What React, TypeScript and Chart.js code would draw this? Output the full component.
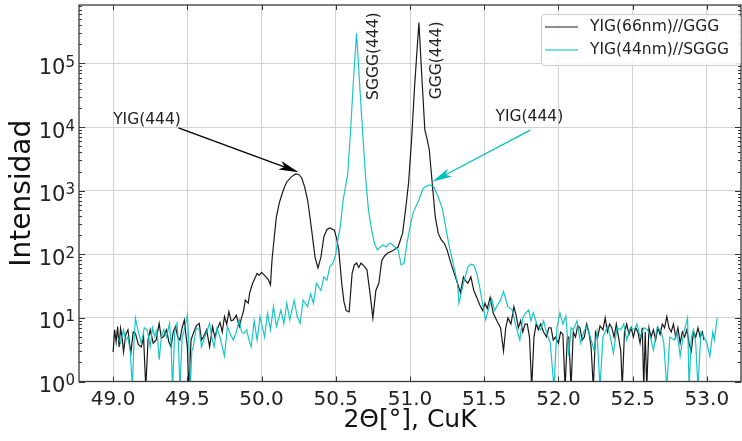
import React, { useEffect, useRef } from "react";
import { Chart, registerables } from "chart.js";

Chart.register(...registerables);

const FONT = '"DejaVu Sans", sans-serif';

const xTicks = [49.0, 49.5, 50.0, 50.5, 51.0, 51.5, 52.0, 52.5, 53.0];
const yTicks = [1, 10, 100, 1000, 10000, 100000];
const seriesNames = ["YIG(66nm)//GGG", "YIG(44nm)//SGGG"];
const seriesColors = ["rgba(0,0,0,0.9)", "rgba(0,191,191,0.9)"];
const xTitle = "2Θ[°], CuK";
const yTitle = "Intensidad";

// [2θ (deg), intensity]
const gggSeries: [number, number][] = [
  [49.0, 2.9], [49.01, 6.5], [49.02, 4.2], [49.03, 7.3], [49.04, 3.5], [49.05, 6.9], [49.06, 5.0], [49.07, 2.9],
  [49.085, 5.5], [49.1, 6.5], [49.11, 4.0], [49.12, 2.9], [49.135, 6.0], [49.15, 5.7], [49.17, 3.8], [49.19, 3.5],
  [49.205, 5.0], [49.22, 0.8], [49.235, 4.5], [49.25, 6.5], [49.27, 4.0], [49.29, 4.5], [49.31, 8.2], [49.325, 4.8],
  [49.34, 5.1], [49.36, 6.5], [49.375, 4.2], [49.39, 3.5], [49.405, 6.0], [49.42, 7.3], [49.435, 5.0], [49.45, 4.5],
  [49.465, 7.0], [49.48, 9.3], [49.49, 5.5], [49.5, 3.5], [49.51, 0.8], [49.525, 4.5], [49.54, 5.7], [49.56, 7.5],
  [49.58, 8.2], [49.595, 4.5], [49.61, 5.1], [49.63, 6.5], [49.65, 3.5], [49.67, 7.3], [49.685, 5.0], [49.7, 6.5],
  [49.72, 8.5], [49.735, 6.0], [49.75, 10.5], [49.765, 8.0], [49.78, 12.5], [49.795, 9.0], [49.81, 9.3], [49.83, 11],
  [49.85, 7.3], [49.865, 10], [49.88, 13.3], [49.89, 19], [49.91, 17], [49.92, 25], [49.94, 35], [49.955, 42],
  [49.97, 50], [49.985, 47], [50.0, 52], [50.015, 48], [50.03, 44], [50.045, 40], [50.06, 33], [50.07, 80],
  [50.085, 180], [50.1, 390], [50.12, 650], [50.14, 920], [50.155, 1150], [50.17, 1370], [50.2, 1650], [50.23, 1830],
  [50.25, 1800], [50.27, 1600], [50.29, 1150], [50.31, 720], [50.325, 400], [50.34, 215], [50.36, 90], [50.38, 61],
  [50.4, 90], [50.42, 190], [50.44, 245], [50.46, 260], [50.49, 240], [50.505, 180], [50.52, 117], [50.54, 35],
  [50.555, 18], [50.57, 13], [50.59, 12.4], [50.61, 50], [50.625, 68], [50.64, 73], [50.655, 62], [50.67, 73],
  [50.69, 65], [50.71, 57], [50.73, 25], [50.75, 10], [50.77, 27], [50.79, 35], [50.81, 80], [50.83, 95],
  [50.85, 105], [50.87, 110], [50.89, 117], [50.92, 130], [50.95, 215], [50.97, 500], [50.99, 1300], [51.01, 6000],
  [51.03, 40000], [51.05, 200000], [51.06, 440000], [51.08, 60000], [51.1, 9000], [51.115, 6500], [51.13, 4400], [51.15, 1300],
  [51.17, 390], [51.19, 215], [51.21, 170], [51.23, 150], [51.25, 117], [51.27, 80], [51.29, 57], [51.32, 35],
  [51.34, 25], [51.36, 44], [51.375, 38], [51.39, 35], [51.41, 44], [51.43, 27], [51.45, 21], [51.47, 16],
  [51.49, 13], [51.505, 17], [51.52, 14], [51.54, 21], [51.56, 12], [51.585, 9], [51.61, 7], [51.63, 3],
  [51.645, 7], [51.66, 10], [51.68, 8], [51.7, 15], [51.715, 11], [51.73, 7], [51.745, 9], [51.76, 6],
  [51.775, 8], [51.79, 8], [51.805, 5], [51.82, 0.8], [51.835, 5], [51.85, 8], [51.865, 6.5], [51.88, 8],
  [51.9, 6], [51.92, 5], [51.935, 7], [51.95, 7], [51.965, 4.5], [51.98, 5], [52.0, 4], [52.015, 6],
  [52.03, 5.5], [52.045, 0.8], [52.06, 5], [52.07, 5], [52.085, 0.8], [52.1, 6], [52.115, 5], [52.13, 7.5],
  [52.145, 7], [52.16, 4.5], [52.175, 5], [52.19, 8], [52.205, 6], [52.22, 3.5], [52.235, 0.8], [52.25, 6],
  [52.265, 5], [52.28, 7.5], [52.3, 6.5], [52.315, 10], [52.33, 6], [52.345, 8], [52.36, 7], [52.375, 5],
  [52.39, 8], [52.405, 5], [52.42, 3], [52.43, 0.8], [52.445, 6], [52.46, 8], [52.475, 5.5], [52.49, 7],
  [52.505, 5], [52.52, 7], [52.535, 6], [52.55, 4], [52.565, 7], [52.575, 0.8], [52.585, 6], [52.595, 0.8],
  [52.61, 7], [52.625, 5], [52.64, 6.5], [52.655, 4.5], [52.67, 7], [52.685, 5.5], [52.7, 8], [52.715, 7],
  [52.73, 10.5], [52.745, 7], [52.76, 6], [52.775, 8], [52.79, 5], [52.805, 7], [52.82, 4], [52.835, 6],
  [52.85, 5], [52.865, 6.5], [52.88, 4], [52.895, 3], [52.91, 6], [52.925, 5], [52.94, 7], [52.955, 5],
  [52.97, 6], [52.98, 4.5],
];

const sgggSeries: [number, number][] = [
  [49.03, 5], [49.05, 4], [49.07, 6.5], [49.085, 4.5], [49.1, 5], [49.115, 3], [49.13, 0.8], [49.14, 4],
  [49.15, 10], [49.17, 6], [49.19, 4], [49.21, 7], [49.23, 6.5], [49.25, 3.5], [49.265, 7], [49.28, 5.1],
  [49.295, 6.5], [49.31, 2.2], [49.325, 5], [49.34, 6.5], [49.36, 5], [49.38, 8.2], [49.39, 4], [49.4, 0.8],
  [49.415, 6], [49.43, 8.2], [49.44, 4], [49.45, 0.8], [49.465, 5], [49.48, 6.5], [49.5, 11], [49.51, 4],
  [49.52, 0.8], [49.53, 3], [49.54, 3.5], [49.56, 7], [49.58, 6.5], [49.595, 3.5], [49.61, 4.5], [49.63, 6],
  [49.65, 8.2], [49.665, 5], [49.68, 3.5], [49.7, 6.9], [49.72, 5], [49.735, 3.5], [49.75, 2.5], [49.77, 7.3],
  [49.79, 5.5], [49.81, 4.5], [49.83, 6], [49.85, 9.3], [49.865, 6], [49.88, 5.7], [49.9, 6.5], [49.915, 4.5],
  [49.93, 3.5], [49.95, 9], [49.97, 4.5], [49.99, 10.5], [50.02, 5], [50.04, 11.8], [50.06, 6.5], [50.08, 15],
  [50.1, 7.3], [50.13, 13.3], [50.15, 8.2], [50.17, 17], [50.19, 9.3], [50.22, 19], [50.24, 10.5], [50.26, 8.2],
  [50.28, 19], [50.31, 15], [50.33, 24], [50.35, 17], [50.37, 35], [50.4, 27], [50.42, 44], [50.44, 39],
  [50.46, 64], [50.48, 72], [50.5, 100], [50.51, 150], [50.53, 270], [50.55, 720], [50.58, 1800], [50.6, 9000],
  [50.62, 60000], [50.64, 300000], [50.66, 50000], [50.68, 9000], [50.7, 1700], [50.72, 500], [50.74, 250], [50.76, 150],
  [50.78, 117], [50.8, 130], [50.82, 140], [50.84, 130], [50.855, 145], [50.87, 150], [50.89, 135], [50.92, 117],
  [50.94, 68], [50.96, 72], [50.98, 150], [51.0, 270], [51.02, 440], [51.06, 720], [51.09, 1100], [51.13, 1230],
  [51.16, 1150], [51.19, 800], [51.22, 500], [51.24, 270], [51.26, 150], [51.29, 73], [51.32, 35], [51.33, 17],
  [51.36, 35], [51.39, 63], [51.41, 70], [51.43, 68], [51.45, 50], [51.47, 30], [51.49, 16], [51.51, 9.3],
  [51.53, 14], [51.55, 20], [51.57, 13], [51.59, 16], [51.61, 19], [51.63, 26], [51.66, 15], [51.69, 13.3],
  [51.71, 8], [51.74, 4.5], [51.76, 10], [51.78, 12], [51.8, 13.3], [51.815, 9], [51.83, 12], [51.855, 8],
  [51.88, 6.5], [51.9, 9], [51.92, 5.8], [51.945, 4], [51.97, 0.8], [51.99, 7], [52.01, 12], [52.03, 8],
  [52.05, 10.7], [52.07, 2.5], [52.085, 7], [52.1, 6.5], [52.125, 9], [52.15, 4], [52.17, 6], [52.19, 7.3],
  [52.215, 5], [52.24, 3.1], [52.26, 6], [52.28, 0.8], [52.3, 5], [52.33, 7.3], [52.35, 5], [52.37, 2.8],
  [52.395, 7], [52.42, 6.5], [52.44, 8], [52.46, 4.5], [52.485, 7], [52.51, 6.5], [52.53, 8], [52.55, 5],
  [52.575, 7], [52.6, 6.5], [52.62, 5], [52.64, 3.1], [52.665, 7], [52.69, 6.5], [52.71, 4], [52.73, 0.8],
  [52.75, 5], [52.78, 4.5], [52.8, 6], [52.82, 2.5], [52.845, 6], [52.87, 10], [52.88, 0.8], [52.895, 5],
  [52.91, 6.5], [52.925, 4], [52.94, 0.8], [52.96, 6], [52.98, 5], [53.0, 4], [53.02, 2.5], [53.04, 6],
  [53.05, 4.5], [53.07, 10],
];

// annotation anchors in data coordinates
const arrowNotes = [
  { text: "YIG(444)", textAt: [49.0, 12900], from: [49.44, 9700], to: [50.25, 1950], color: "#000000" },
  { text: "YIG(444)", textAt: [51.576, 14400], from: [51.81, 8950], to: [51.15, 1380], color: "#00bfbf" },
];
const peakNotes = [
  { text: "SGGG(444)", at: [50.758, 26700] },
  { text: "GGG(444)", at: [51.182, 27400] },
];

function drawArrow(ctx: CanvasRenderingContext2D, x0: number, y0: number, x1: number, y1: number, color: string) {
  const ang = Math.atan2(y1 - y0, x1 - x0);
  const L = 20;
  const W = 4.5;
  ctx.save();
  ctx.strokeStyle = color;
  ctx.fillStyle = color;
  ctx.lineWidth = 1.3;
  ctx.beginPath();
  ctx.moveTo(x0, y0);
  ctx.lineTo(x1 - Math.cos(ang) * L * 0.7, y1 - Math.sin(ang) * L * 0.7);
  ctx.stroke();
  ctx.translate(x1, y1);
  ctx.rotate(ang);
  ctx.beginPath();
  ctx.moveTo(0, 0);
  ctx.lineTo(-L, -W);
  ctx.lineTo(-L * 0.75, 0);
  ctx.lineTo(-L, W);
  ctx.closePath();
  ctx.fill();
  ctx.restore();
}

const decorPlugin = {
  id: "decor",
  afterDraw(chart: any) {
    const ctx: CanvasRenderingContext2D = chart.ctx;
    const a = chart.chartArea;
    const xs = chart.scales.x;
    const ys = chart.scales.y;
    ctx.save();

    // frame
    ctx.strokeStyle = "#3a3a3a";
    ctx.lineWidth = 1.3;
    ctx.strokeRect(a.left, a.top, a.right - a.left, a.bottom - a.top);

    // inward ticks
    ctx.lineWidth = 1;
    ctx.strokeStyle = "#333";
    ctx.beginPath();
    xTicks.forEach((v) => {
      const px = Math.round(xs.getPixelForValue(v)) + 0.5;
      ctx.moveTo(px, a.bottom);
      ctx.lineTo(px, a.bottom - 5);
      ctx.moveTo(px, a.top);
      ctx.lineTo(px, a.top + 5);
    });
    yTicks.forEach((v) => {
      const py = Math.round(ys.getPixelForValue(v)) + 0.5;
      ctx.moveTo(a.left, py);
      ctx.lineTo(a.left + 6, py);
      ctx.moveTo(a.right, py);
      ctx.lineTo(a.right - 6, py);
      for (let m = 2; m <= 9; m++) {
        const val = v * m;
        if (val > ys.max) break;
        const pm = Math.round(ys.getPixelForValue(val)) + 0.5;
        ctx.moveTo(a.left, pm);
        ctx.lineTo(a.left + 3, pm);
        ctx.moveTo(a.right, pm);
        ctx.lineTo(a.right - 3, pm);
      }
    });
    ctx.stroke();

    // y tick labels 10^n
    ctx.fillStyle = "#222";
    yTicks.forEach((v) => {
      const py = ys.getPixelForValue(v);
      const exp = String(Math.round(Math.log10(v)));
      ctx.font = `15px ${FONT}`;
      const ew = ctx.measureText(exp).width;
      const right = a.left - 4;
      ctx.textAlign = "left";
      ctx.textBaseline = "alphabetic";
      ctx.fillText(exp, right - ew, py + 3.5);
      ctx.font = `21px ${FONT}`;
      ctx.textAlign = "right";
      ctx.fillText("10", right - ew, py + 10.5);
    });

    // axis titles
    ctx.fillStyle = "#111";
    ctx.font = `25px ${FONT}`;
    ctx.textAlign = "center";
    ctx.textBaseline = "middle";
    ctx.fillText(xTitle, (a.left + a.right) / 2, 420);
    ctx.save();
    ctx.translate(23, (a.top + a.bottom) / 2);
    ctx.rotate(-Math.PI / 2);
    ctx.font = `28px ${FONT}`;
    ctx.fillText(yTitle, 0, 0);
    ctx.restore();

    // annotations
    ctx.font = `15.5px ${FONT}`;
    arrowNotes.forEach((n) => {
      ctx.fillStyle = "#222";
      ctx.textAlign = "left";
      ctx.textBaseline = "middle";
      ctx.fillText(n.text, xs.getPixelForValue(n.textAt[0]), ys.getPixelForValue(n.textAt[1]));
      drawArrow(
        ctx,
        xs.getPixelForValue(n.from[0]),
        ys.getPixelForValue(n.from[1]),
        xs.getPixelForValue(n.to[0]),
        ys.getPixelForValue(n.to[1]),
        n.color
      );
    });
    peakNotes.forEach((n) => {
      ctx.save();
      ctx.translate(xs.getPixelForValue(n.at[0]), ys.getPixelForValue(n.at[1]));
      ctx.rotate(-Math.PI / 2);
      ctx.fillStyle = "#222";
      ctx.textAlign = "left";
      ctx.textBaseline = "middle";
      ctx.fillText(n.text, 0, 0);
      ctx.restore();
    });

    // legend
    const bw = 199;
    const bh = 51;
    const bx = a.right - 1 - bw;
    const by = a.top + 9;
    ctx.fillStyle = "rgba(255,255,255,0.85)";
    ctx.strokeStyle = "#cccccc";
    ctx.lineWidth = 1;
    ctx.beginPath();
    (ctx as any).roundRect(bx + 0.5, by + 0.5, bw, bh, 3);
    ctx.fill();
    ctx.stroke();
    ctx.font = `15.5px ${FONT}`;
    ctx.textAlign = "left";
    ctx.textBaseline = "middle";
    seriesNames.forEach((name, i) => {
      const ly = by + 13 + i * 23;
      ctx.strokeStyle = i === 0 ? "rgba(0,0,0,0.6)" : "rgba(0,191,191,0.7)";
      ctx.lineWidth = 1.5;
      ctx.beginPath();
      ctx.moveTo(bx + 4, ly);
      ctx.lineTo(bx + 37, ly);
      ctx.stroke();
      ctx.fillStyle = "#222";
      ctx.fillText(name, bx + 49, ly);
    });

    ctx.restore();
  },
};

export default function App() {
  const ref = useRef<HTMLCanvasElement | null>(null);
  useEffect(() => {
    if (!ref.current) return;
    const toPts = (s: [number, number][]) => s.map(([x, y]) => ({ x, y }));
    const chart = new Chart(ref.current, {
      type: "line",
      data: {
        datasets: [
          {
            label: seriesNames[0],
            data: toPts(gggSeries),
            borderColor: seriesColors[0],
            borderWidth: 1.2,
            pointRadius: 0,
            tension: 0,
            order: 1,
          },
          {
            label: seriesNames[1],
            data: toPts(sgggSeries),
            borderColor: seriesColors[1],
            borderWidth: 1.2,
            pointRadius: 0,
            tension: 0,
            order: 0,
          },
        ],
      },
      options: {
        responsive: false,
        animation: false,
        parsing: true,
        layout: { padding: { top: 5, right: 1, left: 0, bottom: 0 } },
        plugins: { legend: { display: false }, tooltip: { enabled: false } },
        scales: {
          x: {
            type: "linear",
            min: 48.77,
            max: 53.23,
            afterBuildTicks: (s: any) => {
              s.ticks = xTicks.map((v) => ({ value: v }));
            },
            afterFit: (s: any) => {
              s.height = 59.5;
            },
            grid: { color: "#d2d2d2", lineWidth: 1, drawTicks: false },
            border: { display: false },
            ticks: {
              font: { family: FONT, size: 20 },
              color: "#222",
              padding: 6,
              maxRotation: 0,
              autoSkip: false,
              callback: (v: any) => Number(v).toFixed(1),
            },
          },
          y: {
            type: "logarithmic",
            min: 1,
            max: 830000,
            afterBuildTicks: (s: any) => {
              s.ticks = yTicks.map((v) => ({ value: v }));
            },
            afterFit: (s: any) => {
              s.width = 79;
            },
            grid: { color: "#d2d2d2", lineWidth: 1, drawTicks: false },
            border: { display: false },
            ticks: { display: false },
          },
        },
      },
      plugins: [decorPlugin],
    });
    return () => chart.destroy();
  }, []);
  return (
    <div style={{ position: "fixed", left: 0, top: 0, width: 742, height: 441, background: "#fff" }}>
      <canvas ref={ref} width={742} height={441} style={{ width: 742, height: 441 }} />
    </div>
  );
}
